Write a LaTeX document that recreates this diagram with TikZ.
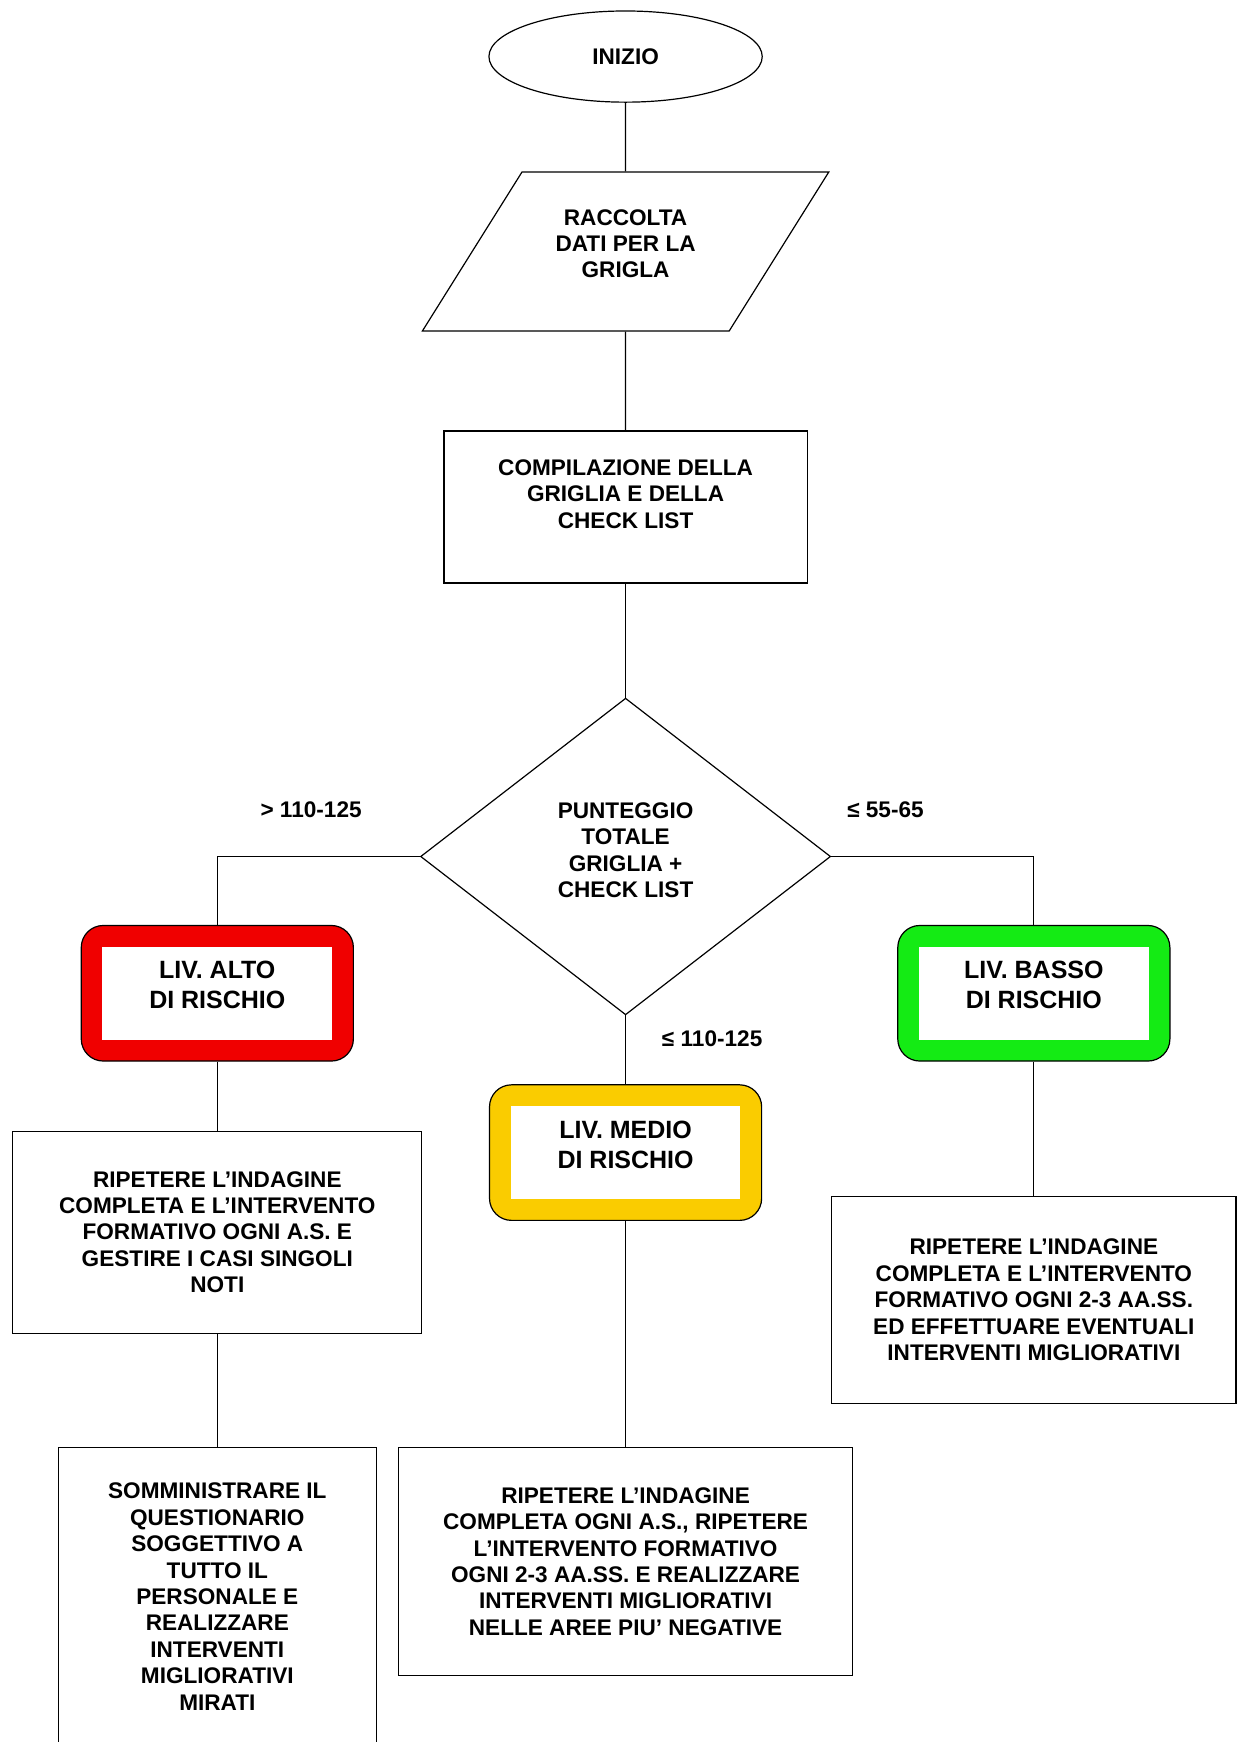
\documentclass[tikz,border=0pt]{standalone}
\usepackage{fontspec}
\setmainfont{Liberation Sans}
\setsansfont{Liberation Sans}
\usepackage{tikz}
\usetikzlibrary{shapes,arrows,calc}
\definecolor{altocolor}{RGB}{240,0,0}
\definecolor{mediocolor}{RGB}{250,204,0}
\definecolor{bassocolor}{RGB}{20,235,20}

\begin{document}
\begin{tikzpicture}[
	block/.style={
		rectangle,
		draw,
		line width=0.6pt,
		inner sep=4pt,
		align=center,
		font=\bfseries\sffamily\fontsize{11.3}{13.2}\selectfont},
	start/.style={
		ellipse,
		draw,
		line width=0.6pt,
		minimum width=136.7pt,
		minimum height=45.6pt,
		font=\bfseries\sffamily\fontsize{11.3}{13.2}\selectfont},
	dati/.style={
		trapezium,
		trapezium left angle=53,
		trapezium right angle=127,
		trapezium stretches=true,
		draw,
		line width=0.6pt,
		minimum width=203.4pt,
		minimum height=79.5pt,
		text depth=8pt,
		align=center,
		font=\bfseries\sffamily\fontsize{11.3}{13.2}\selectfont},
	decision/.style={
		diamond,
		draw,
		line width=0.6pt,
		inner sep=0pt,
		minimum width=205.1pt,
		minimum height=158.4pt,
		text depth=6.5pt,
		align=center,
		font=\bfseries\sffamily\fontsize{11.3}{13.2}\selectfont},
	risk/.style={
		rectangle,
		rounded corners=11pt,
		draw,
		line width=0.6pt,
		fill=#1,
		minimum width=136.1pt,
		minimum height=67.8pt,
		text depth=8pt,
		align=center,
		font=\bfseries\sffamily\fontsize{12.5}{15}\selectfont,
		path picture={\fill[white, sharp corners]
			($(path picture bounding box.south west)+(10.6pt,10.6pt)$) rectangle
			($(path picture bounding box.north east)-(10.6pt,10.6pt)$);}},
	soglia/.style={
		font=\bfseries\sffamily\fontsize{11.3}{13.2}\selectfont},
	line/.style={
	draw,
	line width=0.6pt}]

    \useasboundingbox (-312.9pt,28.3pt) rectangle (306.2pt,-843.0pt);
    \clip (-312.9pt,28.3pt) rectangle (306.2pt,-843.0pt);

    % Place nodes
    \node [start] (inizio) {INIZIO};
    \node [dati, below of=inizio, node distance=97.5pt] (raccolta) {RACCOLTA\\DATI PER LA\\GRIGLA};
    \node [block, below of=raccolta, node distance=127.8pt, minimum width=181.7pt, minimum height=76.1pt, text depth=13pt] (compilazione) {COMPILAZIONE DELLA\\GRIGLIA E DELLA\\CHECK LIST};
    \node [decision, below of=compilazione, node distance=174.8pt] (punteggio) {PUNTEGGIO\\TOTALE\\GRIGLIA +\\CHECK LIST};
    \node [risk=altocolor, below of=punteggio, node distance=68.4pt, xshift=-204.2pt] (alto) {LIV. ALTO\\DI RISCHIO};
    \node [risk=bassocolor, below of=punteggio, node distance=68.4pt, xshift=204.2pt] (basso) {LIV. BASSO\\DI RISCHIO};
    \node [risk=mediocolor, below of=punteggio, node distance=148.1pt] (medio) {LIV. MEDIO\\DI RISCHIO};
    \node [block, below of=alto, node distance=119.5pt, minimum width=204.5pt, minimum height=101.1pt] (azionealto) {RIPETERE L’INDAGINE\\COMPLETA E L’INTERVENTO\\FORMATIVO OGNI A.S. E\\GESTIRE I CASI SINGOLI\\NOTI};
    \node [block, below of=azionealto, node distance=182.3pt, minimum width=158.9pt, minimum height=148.9pt] (questionario) {SOMMINISTRARE IL\\QUESTIONARIO\\SOGGETTIVO A\\TUTTO IL\\PERSONALE E\\REALIZZARE\\INTERVENTI\\MIGLIORATIVI\\MIRATI};
    \node [block, below of=medio, node distance=204.5pt, minimum width=227.3pt, minimum height=113.9pt] (azionemedio) {RIPETERE L’INDAGINE\\COMPLETA OGNI A.S., RIPETERE\\L’INTERVENTO FORMATIVO\\OGNI 2-3 AA.SS. E REALIZZARE\\INTERVENTI MIGLIORATIVI\\NELLE AREE PIU’ NEGATIVE};
    \node [block, below of=basso, node distance=153.4pt, minimum width=202.3pt, minimum height=103.4pt] (azionebasso) {RIPETERE L’INDAGINE\\COMPLETA E L’INTERVENTO\\FORMATIVO OGNI 2-3 AA.SS.\\ED EFFETTUARE EVENTUALI\\INTERVENTI MIGLIORATIVI};
    % Soglie
    \node [soglia, above of=punteggio, node distance=23.3pt, xshift=-157.3pt] (sogliaalta) {> 110-125};
    \node [soglia, above of=punteggio, node distance=23.3pt, xshift=130pt] (sogliabassa) {≤ 55-65};
    \node [soglia, below of=punteggio, node distance=91.1pt, xshift=43.3pt] (sogliamedia) {≤ 110-125};
    % Draw edges
    \path [line] (inizio) -- (raccolta);
    \path [line] (raccolta) -- (compilazione);
    \path [line] (compilazione) -- (punteggio);
    \path [line] (punteggio.west) -| (alto.north);
    \path [line] (punteggio.east) -| (basso.north);
    \path [line] (punteggio.south) -- (medio.north);
    \path [line] (alto) -- (azionealto);
    \path [line] (azionealto) -- (questionario);
    \path [line] (medio) -- (azionemedio);
    \path [line] (basso) -- (azionebasso);
\end{tikzpicture}
\end{document}
